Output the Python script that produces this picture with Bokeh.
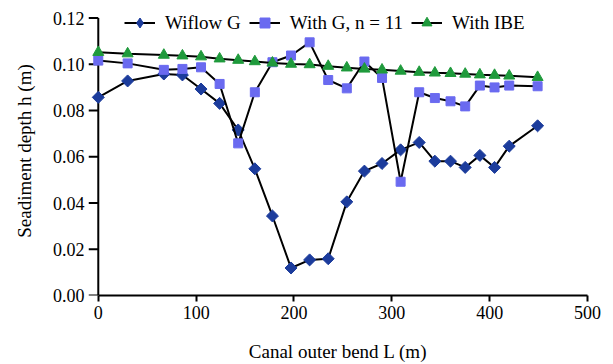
from bokeh.plotting import figure
from bokeh.models import (Range1d, FixedTicker, NumeralTickFormatter, Legend, LegendItem,
                          ColumnDataSource, CDSView, IndexFilter)
from bokeh.embed import file_html
from bokeh.resources import INLINE

# Data
x_l = [0, 30, 67, 86, 105, 124, 143, 160, 178, 197, 216, 235, 254, 272, 290, 309, 328, 344, 360, 375, 390, 405, 420, 449]
wiflow_g = [0.0857, 0.0928, 0.0958, 0.0954, 0.0893, 0.0831, 0.0716, 0.0548, 0.0344, 0.0119, 0.0154, 0.0159,
            0.0405, 0.0538, 0.0571, 0.0630, 0.0662, 0.0581, 0.0581, 0.0554, 0.0606, 0.0554, 0.0646, 0.0734]
with_g = [0.1016, 0.1004, 0.0976, 0.0980, 0.0987, 0.0915, 0.0658, 0.0879, 0.1009, 0.1038, 0.1095, 0.0932,
          0.0896, 0.1012, 0.0941, 0.0492, 0.0879, 0.0854, 0.0840, 0.0818, 0.0908, 0.0900, 0.0908, 0.0905]
with_ibe = [0.1052, 0.1046, 0.1040, 0.1037, 0.1033, 0.1024, 0.1018, 0.1012, 0.1006, 0.1001, 0.0999, 0.0992,
            0.0985, 0.0980, 0.0976, 0.0971, 0.0966, 0.0963, 0.0961, 0.0958, 0.0955, 0.0953, 0.0950, 0.0944]
x_ticks = [0, 100, 200, 300, 400, 500]
y_ticks = [0.00, 0.02, 0.04, 0.06, 0.08, 0.10, 0.12]

FONT = "Liberation Serif"
C_WIF = "#1c3c9c"
C_G = "#6a6af0"
C_IBE = "#1f9a3c"
X_PAD = 10      # left padding of the frame (data units) so markers at 0 are not clipped
Y_TOP = 0.125   # frame top above the last tick, room for the legend

p = figure(frame_width=499, frame_height=289, output_backend="svg", toolbar_location=None,
           x_range=Range1d(-X_PAD, 500), y_range=Range1d(0, Y_TOP),
           min_border_left=88, min_border_right=18, min_border_top=6, min_border_bottom=68)
p.outline_line_color = None
p.grid.visible = False
p.background_fill_color = "white"
p.border_fill_color = "white"

for ax in (p.xaxis[0], p.yaxis[0]):
    ax.axis_line_color = "black"
    ax.axis_line_width = 2
    ax.major_tick_line_color = "black"
    ax.major_tick_line_width = 2
    ax.major_tick_out = 6
    ax.major_tick_in = 0
    ax.minor_tick_line_color = None
    ax.major_label_text_font = FONT
    ax.major_label_text_font_size = "18px"
    ax.major_label_text_color = "black"
    ax.axis_label_text_font = FONT
    ax.axis_label_text_font_size = "19px"
    ax.axis_label_text_font_style = "normal"
    ax.axis_label_text_color = "black"

p.xaxis.ticker = FixedTicker(ticks=x_ticks)
p.xaxis.bounds = (0, 500)
p.xaxis.axis_label = "Canal outer bend L (m)"
p.xaxis.major_label_standoff = 4
p.xaxis.axis_label_standoff = 19

# left axis: labels only; the axis line and ticks are drawn at x = 0
p.yaxis.ticker = FixedTicker(ticks=y_ticks)
p.yaxis.formatter = NumeralTickFormatter(format="0.00")
p.yaxis.axis_line_color = None
p.yaxis.major_tick_line_color = None
p.yaxis.major_tick_out = 0
p.yaxis.axis_label = "Seadiment depth h (m)"
p.yaxis.major_label_standoff = 4
p.yaxis.axis_label_standoff = 15

p.segment(x0=[0], y0=[y_ticks[0]], x1=[0], y1=[y_ticks[-1]], line_color="black", line_width=2, level="underlay")
p.segment(x0=[-X_PAD] * len(y_ticks), y0=y_ticks, x1=[0] * len(y_ticks), y1=y_ticks,
          line_color="black", line_width=2, level="underlay")

src1 = ColumnDataSource(data=dict(x=x_l, y=wiflow_g))
l1 = p.line("x", "y", source=src1, line_color="black", line_width=2)
# diamond glyph for the legend entry (its one drawn point sits under the first marker)
k1 = p.scatter("x", "y", source=src1, view=CDSView(filter=IndexFilter(indices=[0])),
               marker="diamond", size=10, fill_color=C_WIF, line_color=C_WIF)
m1 = p.scatter("x", "y", source=src1, marker="square", angle=0.785398, size=8.5, fill_color=C_WIF, line_color=C_WIF)
l2 = p.line(x_l, with_g, line_color="black", line_width=2)
m2 = p.scatter(x_l, with_g, marker="square", size=9, fill_color=C_G, line_color=C_G)
l3 = p.line(x_l, with_ibe, line_color="black", line_width=2)
m3 = p.scatter(x_l, with_ibe, marker="triangle", size=11, fill_color=C_IBE, line_color=C_IBE)

legend = Legend(items=[
    LegendItem(label="Wiflow G", renderers=[l1, k1]),
    LegendItem(label="With G, n = 11", renderers=[l2, m2]),
    LegendItem(label="With IBE", renderers=[l3, m3]),
], orientation="horizontal", location=(36, 260))
legend.background_fill_alpha = 0
legend.border_line_color = None
legend.padding = 0
legend.margin = 0
legend.spacing = 8
legend.glyph_width = 31
legend.glyph_height = 25
legend.label_standoff = 10
legend.label_text_font = FONT
legend.label_text_font_size = "19px"
legend.label_text_color = "black"
p.add_layout(legend, "center")

open("out.html", "w").write(file_html(p, INLINE))
